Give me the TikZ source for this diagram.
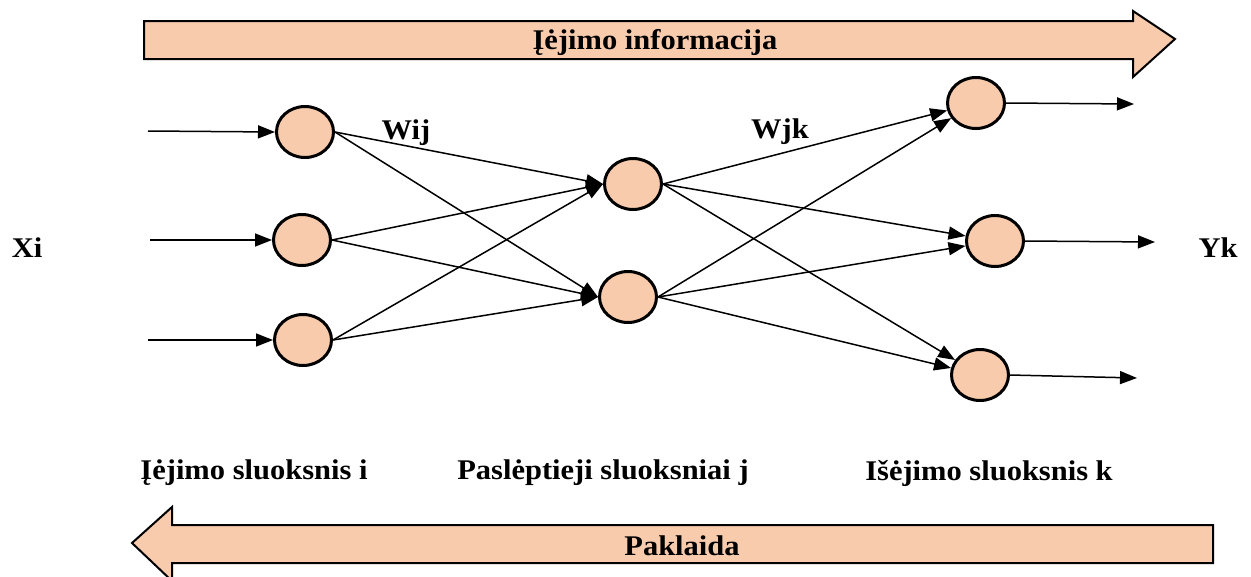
\documentclass[tikz,border=0pt]{standalone}
\usepackage{fontspec}
\setmainfont{Liberation Serif}
\usetikzlibrary{arrows.meta,shapes.geometric}
\definecolor{peach}{HTML}{F8CBAD}
\newcommand{\wtxt}[1]{\scalebox{1.07}[1]{#1}}
\tikzset{
  neuron/.style={ellipse, draw=black, line width=3pt, fill=peach,
    minimum width=57pt, minimum height=51pt, inner sep=0pt},
  lbl/.style={font=\bfseries\fontsize{28.5}{31}\selectfont, inner sep=0pt},
  link/.style={line width=1.5pt, -{Triangle[length=17pt,width=13pt]}},
  bigarrow/.style={fill=peach, draw=black, line width=2pt, line join=miter}
}
\begin{document}
\begin{tikzpicture}[x=1pt,y=-1pt]
\useasboundingbox (0,0) rectangle (1251,576);

% block arrows: forward information flow and backward error
\draw[bigarrow] (144,21) -- (1133,21) -- (1133,11) -- (1175,39) -- (1133,77)
  -- (1133,59) -- (144,59) -- cycle;
\node[lbl] (fwd) at (655,42) {\wtxt{Įėjimo informacija}};

\draw[bigarrow] (1213,525) -- (172,525) -- (172,507) -- (132,543) -- (172,581)
  -- (172,563) -- (1213,563) -- cycle;
\node[lbl] (err) at (682,546) {\wtxt{Paklaida}};

% neurons
\node[neuron] (i1) at (305,132) {};
\node[neuron] (i2) at (302,240) {};
\node[neuron] (i3) at (303,340) {};
\node[neuron] (h1) at (633,184) {};
\node[neuron] (h2) at (628,297) {};
\node[neuron] (o1) at (976,103) {};
\node[neuron] (o2) at (995,241) {};
\node[neuron] (o3) at (980,375) {};

% inputs and outputs
\coordinate (x1) at (148,131);
\coordinate (x2) at (150,240);
\coordinate (x3) at (148,340);
\coordinate (y1) at (1134,104);
\coordinate (y2) at (1155,242);
\coordinate (y3) at (1137,378);
\draw[link] (x1) -- (i1.west);
\draw[link] (x2) -- (i2.west);
\draw[link] (x3) -- (i3.west);
\draw[link] (o1.east) -- (y1);
\draw[link] (o2.east) -- (y2);
\draw[link] (o3.east) -- (y3);

% weights input -> hidden
\foreach \s in {i1,i2,i3}{
  \draw[link] (\s.east) -- (h1.west);
  \draw[link] (\s.east) -- (h2.west);
}
% weights hidden -> output
\foreach \s in {h1,h2}{
  \foreach \t in {o1,o2,o3}{
    \draw[link] (\s.east) -- (\t);
  }
}

% labels
\node[lbl] (wij) at (406,133) {\wtxt{Wij}};
\node[lbl] (wjk) at (780,132) {\wtxt{Wjk}};
\node[lbl] (xi) at (27,248) {\wtxt{Xi}};
\node[lbl] (yk) at (1218,248) {\wtxt{Yk}};
\node[lbl] (l1) at (254,473) {\wtxt{Įėjimo sluoksnis i}};
\node[lbl] (l2) at (603,473) {\wtxt{Paslėptieji sluoksniai j}};
\node[lbl] (l3) at (989,473) {\wtxt{Išėjimo sluoksnis k}};
\end{tikzpicture}
\end{document}
